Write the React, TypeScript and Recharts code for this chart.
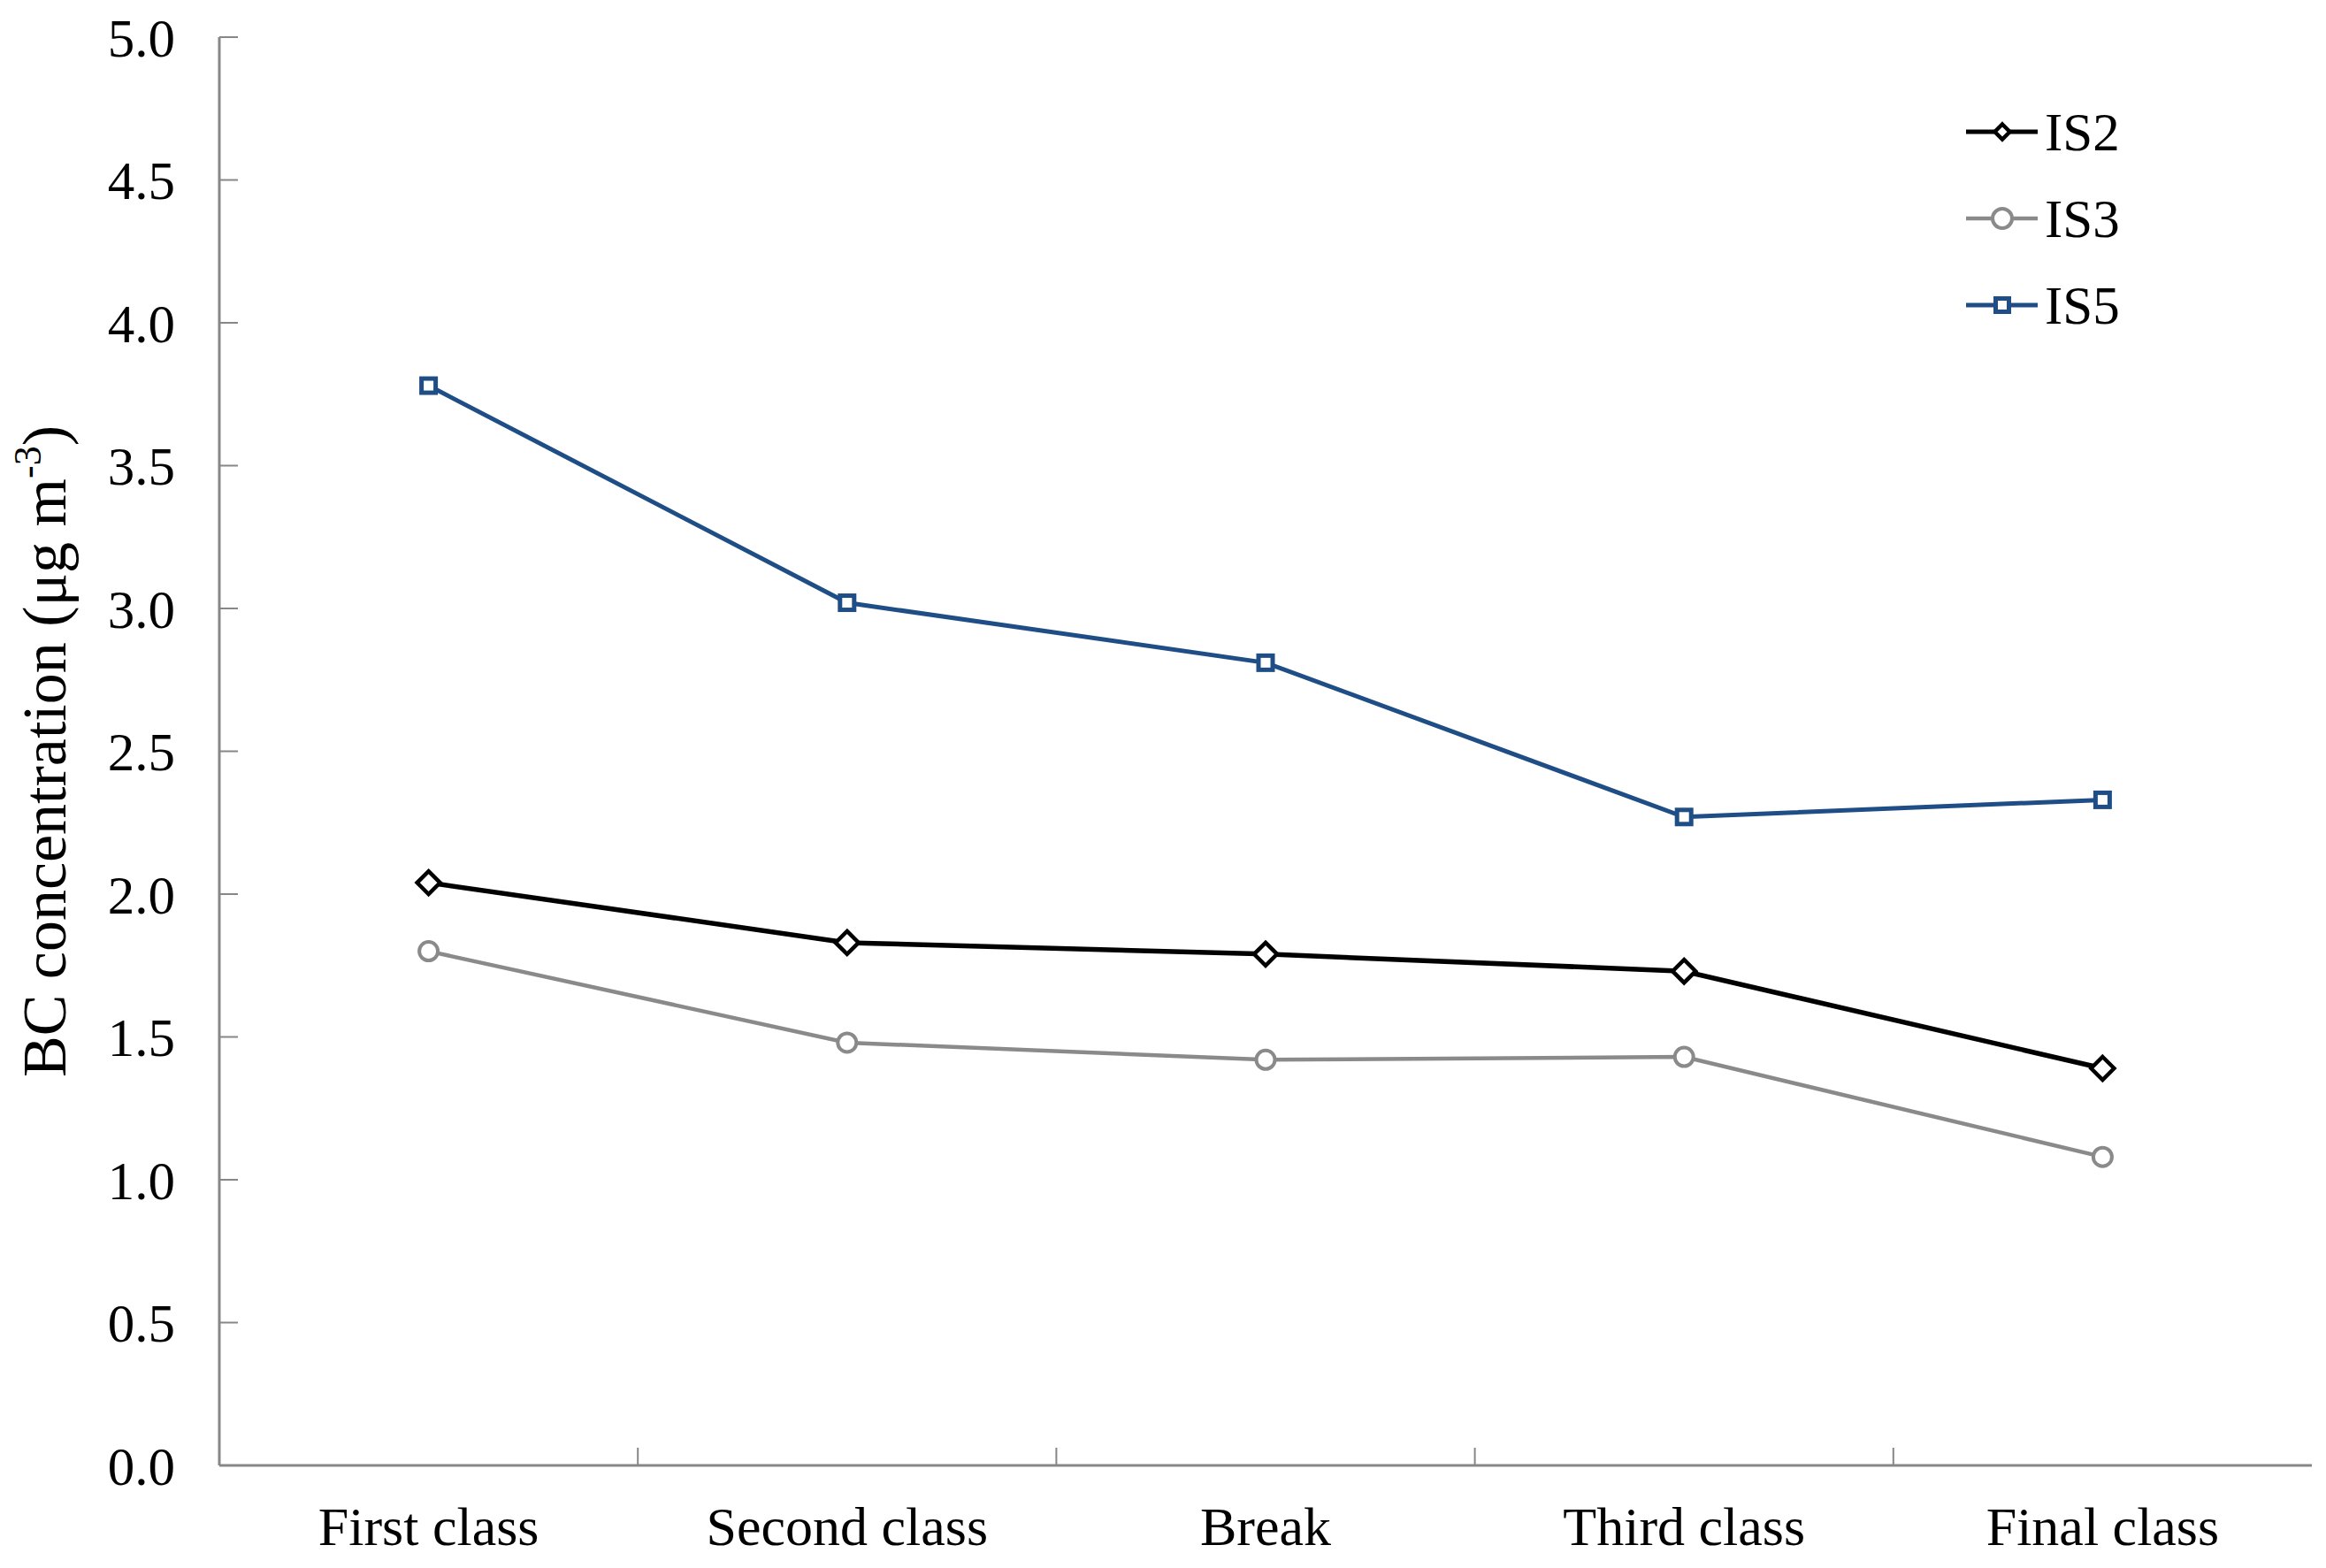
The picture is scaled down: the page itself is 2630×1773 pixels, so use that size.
import React from 'react';
import { LineChart, Line, XAxis, YAxis, Legend } from 'recharts';

const categories = ['First class', 'Second class', 'Break', 'Third class', 'Final class'];
const is2 = [2.04, 1.83, 1.79, 1.73, 1.39];
const is3 = [1.8, 1.48, 1.42, 1.43, 1.08];
const is5 = [3.78, 3.02, 2.81, 2.27, 2.33];
const yTicks = [0, 0.5, 1, 1.5, 2, 2.5, 3, 3.5, 4, 4.5, 5];
const seriesNames = ['IS2', 'IS3', 'IS5'];
const seriesColors = ['#000000', '#8a8a8a', '#1f4e87'];

const data = categories.map((c, i) => ({ cat: c, IS2: is2[i], IS3: is3[i], IS5: is5[i] }));

const FONT = '"Liberation Serif", "Times New Roman", serif';
const W = 2614;
const H = 1757;
const M = { top: 34, right: 8, bottom: 0, left: 0 };
const YW = 240;
const XH = 108;
const AXIS = '#878787';
const plotW = W - M.left - M.right - YW;
const halfBand = plotW / categories.length / 2;

const Diamond = ({ cx, cy, r = 13, sw = 4.5 }: any) => (
  <path
    d={`M${cx},${cy - r} L${cx + r},${cy} L${cx},${cy + r} L${cx - r},${cy} Z`}
    fill="#fff"
    stroke={seriesColors[0]}
    strokeWidth={sw}
  />
);
const Circ = ({ cx, cy, r = 10.5 }: any) => (
  <circle cx={cx} cy={cy} r={r} fill="#fff" stroke={seriesColors[1]} strokeWidth={4} />
);
const Sq = ({ cx, cy, s = 16 }: any) => (
  <rect x={cx - s / 2} y={cy - s / 2} width={s} height={s} fill="#fff" stroke={seriesColors[2]} strokeWidth={5} />
);

const XTick = (props: any) => {
  const { x, y, payload, index } = props;
  const off = payload && typeof payload.offset === 'number' && payload.offset > 0 ? payload.offset : halfBand;
  return (
    <g>
      <text x={x} y={y + 90} textAnchor="middle" fontFamily={FONT} fontSize={62} fill="#000">
        {payload.value}
      </text>
      {index < categories.length - 1 && (
        <line x1={x + off} x2={x + off} y1={y} y2={y - 20} stroke={AXIS} strokeWidth={2} />
      )}
    </g>
  );
};

const YLabel = (props: any) => {
  const vb = props.viewBox || { x: 0, y: M.top, width: YW, height: 1615 };
  const cx = vb.x + 66;
  const cy = vb.y + vb.height / 2;
  return (
    <text
      transform={`rotate(-90 ${cx} ${cy})`}
      x={cx}
      y={cy}
      textAnchor="middle"
      fontFamily={FONT}
      fontSize={70}
      fill="#000"
    >
      BC concentration (μg m
      <tspan dy={-28} fontSize={44}>-3</tspan>
      <tspan dy={28}>)</tspan>
    </text>
  );
};

const LegendContent = () => (
  <div style={{ display: 'flex', flexDirection: 'column' }}>
    {seriesNames.map((n, i) => (
      <div key={n} style={{ height: 98, display: 'flex', alignItems: 'center' }}>
        <svg width={89} height={40} style={{ display: 'block' }}>
          <line x1={0} x2={81} y1={20} y2={20} stroke={seriesColors[i]} strokeWidth={i === 1 ? 4.5 : 5} />
          {i === 0 && <Diamond cx={41} cy={20} r={8.5} sw={4.5} />}
          {i === 1 && <Circ cx={41} cy={20} r={11} />}
          {i === 2 && <Sq cx={41} cy={20} s={15} />}
        </svg>
        <span style={{ fontFamily: FONT, fontSize: 61, lineHeight: 1, color: '#000' }}>{n}</span>
      </div>
    ))}
  </div>
);

export default function App() {
  return (
    <div style={{ width: W, height: H, background: '#fff' }}>
      <LineChart width={W} height={H} data={data} margin={M}>
        <XAxis
          dataKey="cat"
          scale="band"
          height={XH}
          interval={0}
          tickLine={false}
          tickSize={0}
          tickMargin={0}
          axisLine={{ stroke: AXIS, strokeWidth: 3 }}
          tick={<XTick />}
        />
        <XAxis
          xAxisId="top"
          dataKey="cat"
          scale="band"
          orientation="top"
          height={0}
          tick={false}
          tickLine={false}
          axisLine={{ stroke: AXIS, strokeWidth: 3 }}
        />
        <YAxis
          width={YW}
          domain={[0, 5]}
          ticks={yTicks}
          interval={0}
          tickFormatter={(v: number) => v.toFixed(1)}
          tickSize={-21}
          tickMargin={71}
          tickLine={{ stroke: AXIS, strokeWidth: 2 }}
          axisLine={{ stroke: AXIS, strokeWidth: 3 }}
          tick={{ fill: '#000', fontSize: 61, fontFamily: FONT }}
          label={<YLabel />}
        />
        <YAxis
          yAxisId="right"
          orientation="right"
          width={0}
          domain={[0, 5]}
          tick={false}
          tickLine={false}
          axisLine={{ stroke: AXIS, strokeWidth: 3 }}
        />
        <Legend
          layout="vertical"
          align="center"
          verticalAlign="middle"
          content={<LegendContent />}
          wrapperStyle={{ top: 92, left: 2215, width: 220, bottom: 'auto', right: 'auto' }}
        />
        <Line
          dataKey="IS5"
          name="IS5"
          stroke={seriesColors[2]}
          strokeWidth={5}
          isAnimationActive={false}
          activeDot={false}
          dot={(p: any) => <Sq key={`s-${p.index}`} cx={p.cx} cy={p.cy} />}
        />
        <Line
          dataKey="IS3"
          name="IS3"
          stroke={seriesColors[1]}
          strokeWidth={4.5}
          isAnimationActive={false}
          activeDot={false}
          dot={(p: any) => <Circ key={`c-${p.index}`} cx={p.cx} cy={p.cy} />}
        />
        <Line
          dataKey="IS2"
          name="IS2"
          stroke={seriesColors[0]}
          strokeWidth={5.5}
          isAnimationActive={false}
          activeDot={false}
          dot={(p: any) => <Diamond key={`d-${p.index}`} cx={p.cx} cy={p.cy} />}
        />
      </LineChart>
    </div>
  );
}
